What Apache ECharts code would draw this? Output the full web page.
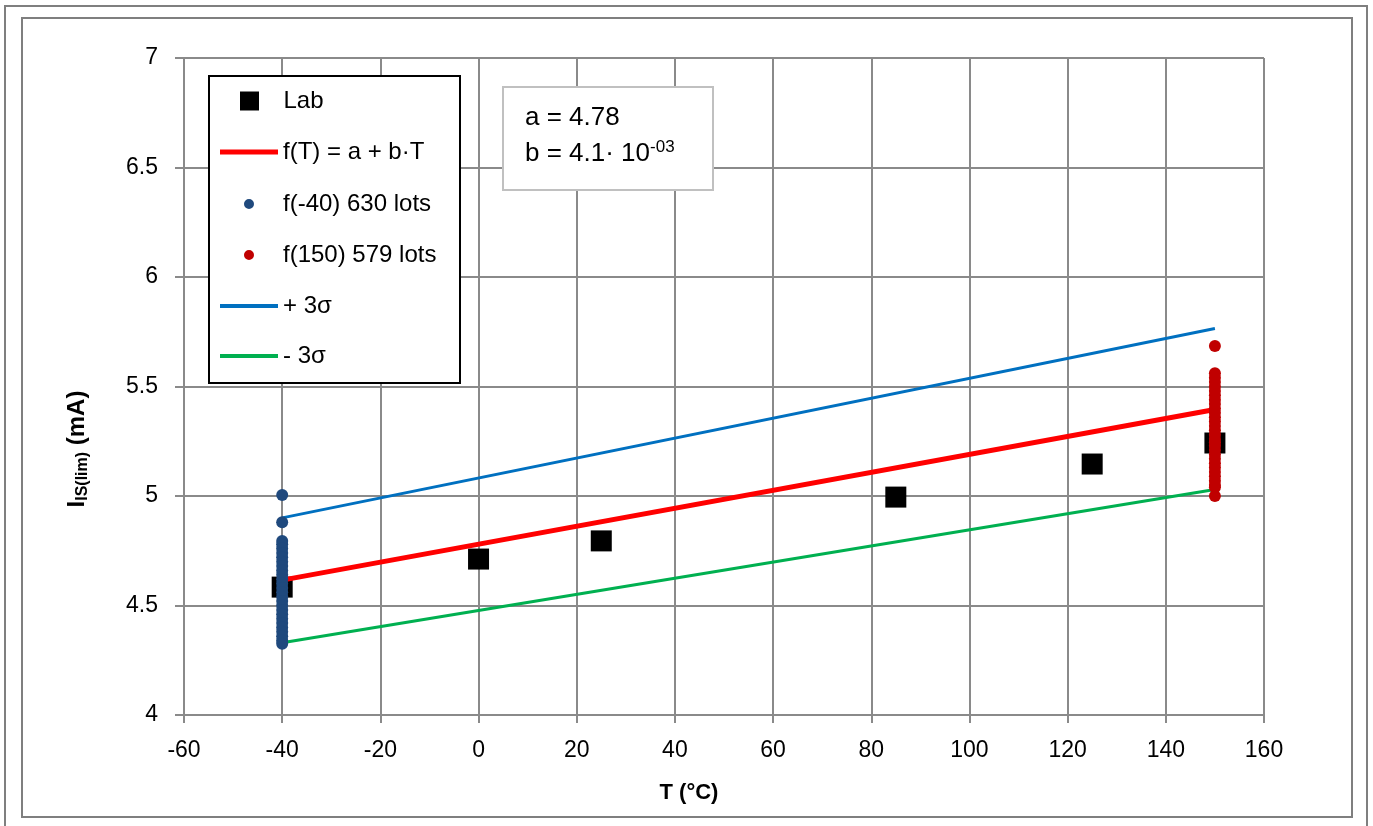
<!DOCTYPE html>
<html>
<head>
<meta charset="utf-8">
<script src="https://cdn.jsdelivr.net/npm/echarts@6/dist/echarts.min.js"></script>
<style>
html,body{margin:0;padding:0;background:#fff;}
#chart{width:1373px;height:826px;}
</style>
</head>
<body>
<div id="chart"></div>
<script>
// ---- data ----
const labT = [-40, 0, 25, 85, 125, 150];
const labI = [4.584, 4.712, 4.795, 4.995, 5.146, 5.242];

const lineT = [-40, 150];
const fitI = [4.616, 5.395];       // f(T) = a + b*T
const plus3I = [4.90, 5.765];      // + 3 sigma
const minus3I = [4.33, 5.03];      // - 3 sigma

const lotsM40T = -40;
const lotsM40I = [5.005, 4.88, 4.795, 4.78, 4.76, 4.74, 4.72, 4.70, 4.68, 4.66, 4.64, 4.62, 4.60, 4.58, 4.56, 4.54, 4.52, 4.50, 4.48, 4.46, 4.44, 4.42, 4.40, 4.38, 4.36, 4.34, 4.325];
const lots150T = 150;
const lots150I = [5.685, 5.56, 5.54, 5.52, 5.50, 5.48, 5.46, 5.44, 5.42, 5.40, 5.38, 5.36, 5.34, 5.32, 5.30, 5.28, 5.26, 5.245, 5.23, 5.21, 5.19, 5.17, 5.15, 5.13, 5.11, 5.09, 5.07, 5.05, 5.04, 5.0];

const seriesNames = ['Lab', 'f(T) = a + b·T', 'f(-40) 630 lots', 'f(150) 579 lots', '+ 3σ', '- 3σ'];
const xTickMin = -60, xTickMax = 160, xTickStep = 20;
const yTickMin = 4, yTickMax = 7, yTickStep = 0.5;
const paramA = '4.78';
const paramB = '4.1· 10';
const paramBExp = '-03';

// ---- build ----
const FONT = 'Liberation Sans';
const GRID_C = '#8a8a8a';
const pairs = (xs, ys) => xs.map((x, i) => [x, ys[i]]);
const col = (x, ys) => ys.map(y => [x, y]);

const SQUARE_ICON = 'path://M0,0H10V10H0Z';
const DOT_ICON = 'path://M5,0A5,5,0,1,1,4.99,0Z';

const chart = echarts.init(document.getElementById('chart'), null, {renderer: 'canvas'});

function legendAt(left, top, name, icon, h) {
  return {
    orient: 'vertical', left: left, top: top, padding: 0, z: 8,
    itemWidth: 58, itemHeight: h, itemGap: 5, selectedMode: false,
    symbolKeepAspect: true,
    textStyle: {fontFamily: FONT, fontSize: 24, color: '#000'},
    data: [{name: name, icon: icon}]
  };
}

const option = {
  animation: false,
  backgroundColor: '#fff',
  grid: {left: 184, right: 109, top: 58, bottom: 111},
  xAxis: {
    type: 'value', min: xTickMin, max: xTickMax, interval: xTickStep,
    axisLine: {show: true, onZero: false, lineStyle: {color: GRID_C, width: 2}},
    axisTick: {show: true, length: 8, lineStyle: {color: GRID_C, width: 2}},
    splitLine: {show: true, lineStyle: {color: GRID_C, width: 2}},
    axisLabel: {fontFamily: FONT, fontSize: 23, color: '#000', margin: 24}
  },
  yAxis: {
    type: 'value', min: yTickMin, max: yTickMax, interval: yTickStep,
    axisLine: {show: true, onZero: false, lineStyle: {color: GRID_C, width: 2}},
    axisTick: {show: true, length: 9, lineStyle: {color: GRID_C, width: 2}},
    splitLine: {show: true, lineStyle: {color: GRID_C, width: 2}},
    axisLabel: {fontFamily: FONT, fontSize: 23, color: '#000', margin: 26}
  },
  legend: [
    legendAt(240, 89, seriesNames[0], SQUARE_ICON, 19),
    legendAt(220, 140, seriesNames[1], 'path://M0,0H58V5H0Z', 14),
    legendAt(244, 192, seriesNames[2], DOT_ICON, 10),
    legendAt(244, 243, seriesNames[3], DOT_ICON, 10),
    legendAt(220, 294, seriesNames[4], 'path://M0,0H58V4H0Z', 14),
    legendAt(220, 344, seriesNames[5], 'path://M0,0H58V4H0Z', 14)
  ],
  series: [
    {name: seriesNames[0], type: 'scatter', symbol: 'rect', symbolSize: 21,
     itemStyle: {color: '#000', opacity: 1}, data: pairs(labT, labI), z: 2},
    {name: seriesNames[1], type: 'line', symbol: 'none', data: pairs(lineT, fitI),
     lineStyle: {color: '#ff0000', width: 5}, itemStyle: {color: '#ff0000'}, z: 3},
    {name: seriesNames[4], type: 'line', symbol: 'none', data: pairs(lineT, plus3I),
     lineStyle: {color: '#0070c0', width: 3}, itemStyle: {color: '#0070c0'}, z: 3},
    {name: seriesNames[5], type: 'line', symbol: 'none', data: pairs(lineT, minus3I),
     lineStyle: {color: '#00b050', width: 3}, itemStyle: {color: '#00b050'}, z: 3},
    {name: seriesNames[2], type: 'scatter', symbol: 'circle', symbolSize: 12,
     itemStyle: {color: '#1f497d', opacity: 1}, data: col(lotsM40T, lotsM40I), z: 4},
    {name: seriesNames[3], type: 'scatter', symbol: 'circle', symbolSize: 12,
     itemStyle: {color: '#c00000', opacity: 1}, data: col(lots150T, lots150I), z: 4}
  ],
  graphic: [
    {type: 'rect', z: -10, silent: true, shape: {x: 5, y: 6, width: 1362, height: 830},
     style: {fill: 'none', stroke: '#7f7f7f', lineWidth: 2}},
    {type: 'rect', z: -10, silent: true, shape: {x: 22, y: 18, width: 1330, height: 799},
     style: {fill: 'none', stroke: '#7f7f7f', lineWidth: 2}},
    {type: 'rect', z: 5, silent: true, shape: {x: 209, y: 76, width: 251, height: 307},
     style: {fill: '#fff', stroke: '#000', lineWidth: 2}},
    {type: 'rect', z: 5, silent: true, shape: {x: 503, y: 87, width: 210, height: 103},
     style: {fill: '#fff', stroke: '#c0c0c0', lineWidth: 2}},
    {type: 'text', z: 6, x: 525, y: 118, silent: true,
     style: {text: 'a = ' + paramA, fontFamily: FONT, fontSize: 26, fill: '#000', verticalAlign: 'middle'}},
    {type: 'text', z: 6, x: 525, y: 154, silent: true,
     style: {text: '{n|b = ' + paramB + '}{s|' + paramBExp + '}', fontFamily: FONT, fill: '#000', verticalAlign: 'middle',
       rich: {n: {fontFamily: FONT, fontSize: 26, lineHeight: 30, fill: '#000'},
              s: {fontFamily: FONT, fontSize: 17, lineHeight: 17, verticalAlign: 'top', fill: '#000'}}}},
    {type: 'text', z: 6, x: 689, y: 793, silent: true,
     style: {text: 'T (°C)', fontFamily: FONT, fontSize: 22, fontWeight: 'bold', fill: '#000', align: 'center', verticalAlign: 'middle'}},
    {type: 'text', z: 6, x: 77, y: 449, rotation: Math.PI / 2, silent: true,
     style: {text: '{m|I}{b|IS(lim)}{m| (mA)}', fontFamily: FONT, fill: '#000', align: 'center', verticalAlign: 'middle',
       rich: {m: {fontFamily: FONT, fontSize: 24, fontWeight: 'bold', lineHeight: 28, fill: '#000'},
              b: {fontFamily: FONT, fontSize: 16, fontWeight: 'bold', lineHeight: 16, verticalAlign: 'bottom', fill: '#000'}}}}
  ]
};
chart.setOption(option);
</script>
</body>
</html>
